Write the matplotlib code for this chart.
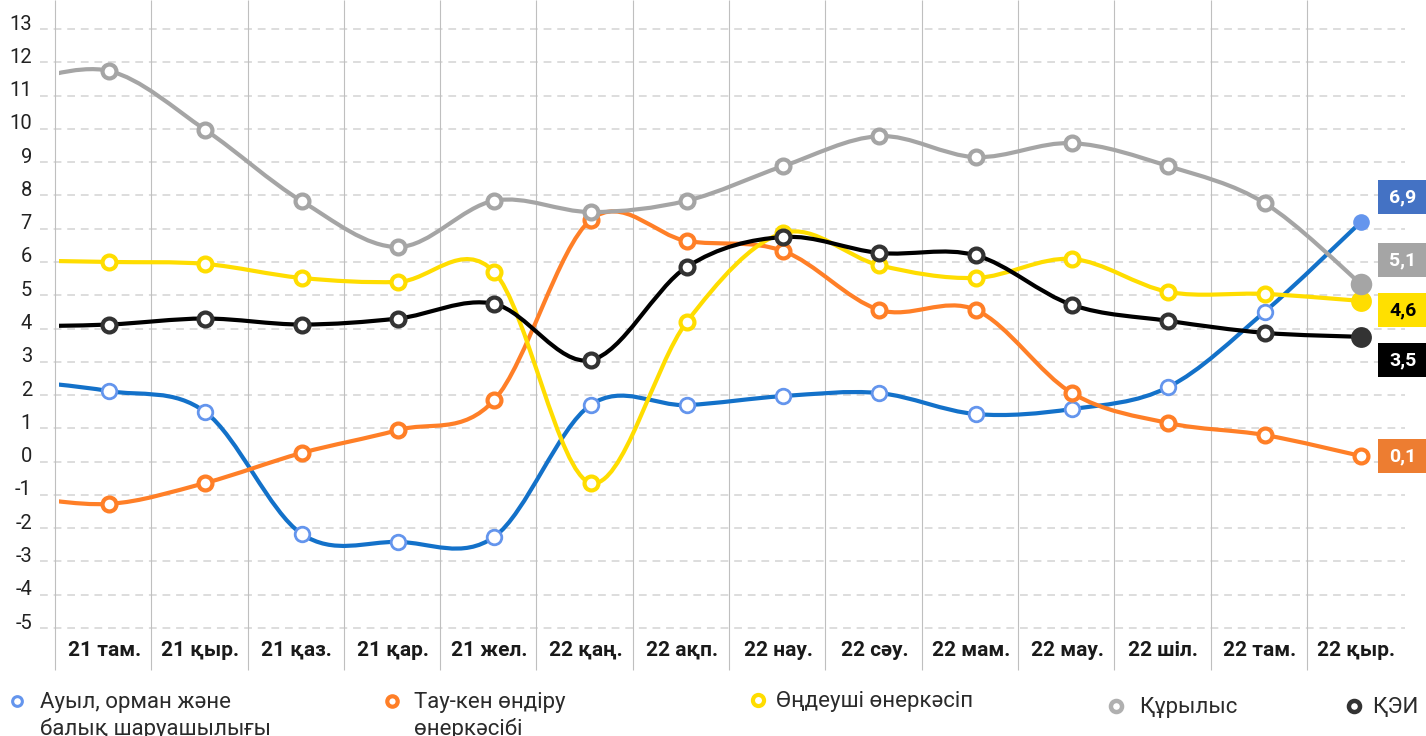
import numpy as np
import matplotlib.pyplot as plt
from matplotlib.path import Path
from matplotlib.patches import PathPatch, Rectangle

plt.rcParams['font.family'] = ['Roboto', 'DejaVu Sans']

##################################################################################################
#                    DATA
##################################################################################################

months = ['21 там.', '21 қыр.', '21 қаз.', '21 қар.', '21 жел.', '22 қаң.', '22 ақп.',
          '22 нау.', '22 сәу.', '22 мам.', '22 мау.', '22 шіл.', '22 там.', '22 қыр.']
y_ticks = list(range(-5, 14))

# the month before '21 там.' is cut by the left edge, only the start of the curve shows
agri_prev = 2.46
agri = [2.12, 1.49, -2.17, -2.41, -2.26, 1.70, 1.70, 1.97, 2.06, 1.43, 1.58, 2.24, 4.50, 7.20]

mining_prev = -1.01
mining = [-1.27, -0.64, 0.26, 0.95, 1.85, 7.26, 6.63, 6.33, 4.56, 4.56, 2.06, 1.16, 0.80, 0.17]

manuf_prev = 6.05
manuf = [6.00, 5.94, 5.52, 5.40, 5.70, -0.64, 4.20, 6.87, 5.90, 5.52, 6.09, 5.10, 5.04, 4.83]

constr_prev = 11.34
constr = [11.74, 9.97, 7.83, 6.45, 7.84, 7.50, 7.84, 8.88, 9.78, 9.15, 9.57, 8.88, 7.77, 5.34]

kei_prev = 4.06
kei = [4.12, 4.30, 4.12, 4.30, 4.74, 3.05, 5.85, 6.75, 6.27, 6.20, 4.71, 4.23, 3.87, 3.75]

last_labels = ['6,9', '0,1', '4,6', '5,1', '3,5']
legend_names = ['Ауыл, орман және\nбалық шаруашылығы', 'Тау-кен өндіру\nөнеркәсібі',
                'Өңдеуші өнеркәсіп', 'Құрылыс', 'ҚЭИ']

##################################################################################################
#                    FUNCTIONS
##################################################################################################


def smoothPath(xs, ys):
    """
    smoothPath : bezier path through the points (catmull-rom like, as excel smooth lines)
    """
    pts = np.column_stack([xs, ys]).astype(float)
    n = len(pts)
    verts = [pts[0]]
    codes = [Path.MOVETO]
    for i in range(n - 1):
        p0 = pts[max(i - 1, 0)]
        p1 = pts[i]
        p2 = pts[i + 1]
        p3 = pts[min(i + 2, n - 1)]
        verts += [p1 + (p2 - p0) / 6, p2 - (p3 - p1) / 6, p2]
        codes += [Path.CURVE4] * 3
    return Path(verts, codes)


def plotSeries(ax, prev, values, st):
    """
    plotSeries : smooth line + hollow markers, last point filled or not
    """
    x = np.arange(len(values))
    xs = np.concatenate([[-1], x])
    ys = np.concatenate([[prev], values])
    ax.add_patch(PathPatch(smoothPath(xs, ys), facecolor='none', edgecolor=st['line'],
                           lw=3, capstyle='round', zorder=st['z']))
    ax.plot(x[:-1], values[:-1], 'o', ms=st['ms'], mew=st['mew'], mec=st['edge'],
            mfc='white', zorder=st['z'] + 0.5)
    if st['fill_last']:
        ax.plot(x[-1], values[-1], 'o', ms=st['last_ms'], mew=0, mfc=st['edge'],
                zorder=st['z'] + 0.5)
    else:
        ax.plot(x[-1], values[-1], 'o', ms=st['ms'], mew=st['mew'], mec=st['edge'],
                mfc='white', zorder=st['z'] + 0.5)


##################################################################################################
#                    PLOT
##################################################################################################

W, H = 1426, 736
fig = plt.figure(figsize=(W / 100, H / 100), dpi=100)

# pixel layout of the reference: point k at x = 109 + 96.3 k, value v at y = 29 + (13 - v) * 33.28
px_x0, px_dx = 109, 96.3
px_y13, px_dy = 29, 33.28
ax_left, ax_right, ax_top, ax_bot = 59, 1405, 0, 670

ax = fig.add_axes([ax_left / W, 1 - ax_bot / H, (ax_right - ax_left) / W, (ax_bot - ax_top) / H])
ax.set_xlim((ax_left - px_x0) / px_dx, (ax_right - px_x0) / px_dx)
ax.set_ylim(13 - (ax_bot - px_y13) / px_dy, 13 + px_y13 / px_dy)
ax.axis('off')

# grid
grid_x0 = (40 - px_x0) / px_dx
ax.hlines(y_ticks, grid_x0, ax.get_xlim()[1], colors='#DDDDDD', lw=1.4,
          linestyles=(0, (4, 3)), clip_on=False, zorder=1)
ax.vlines(np.arange(len(months)) - 0.561, *ax.get_ylim(), colors='#BFBFBF', lw=0.8,
          clip_on=False, zorder=1)

for v in y_ticks:
    ax.text((32 - px_x0) / px_dx, v + 0.15, str(v), ha='right', va='center',
            fontsize=14.5, color='#222222', clip_on=False)

label_y = 13 - (650 - px_y13) / px_dy
for i, m in enumerate(months):
    ax.text(i - 0.05, label_y, m, ha='center', va='center', fontsize=15,
            fontweight='bold', color='#1A1A1A')

styles = [
    dict(line='#1371C9', edge='#6495ED', ms=10.5, mew=2.0, last_ms=12, fill_last=True, z=3),
    dict(line='#FF7F27', edge='#FF7F27', ms=10, mew=3.0, last_ms=12, fill_last=False, z=4),
    dict(line='#FFDD00', edge='#FFDD00', ms=10, mew=3.0, last_ms=15, fill_last=True, z=5),
    dict(line='#A5A5A5', edge='#A5A5A5', ms=10, mew=3.0, last_ms=15.5, fill_last=True, z=6),
    dict(line='#000000', edge='#333333', ms=10, mew=3.0, last_ms=15, fill_last=True, z=7),
]
all_prev = [agri_prev, mining_prev, manuf_prev, constr_prev, kei_prev]
all_values = [agri, mining, manuf, constr, kei]

for prev, values, st in zip(all_prev, all_values, styles):
    plotSeries(ax, prev, np.array(values), st)

# overlay in pixel coordinates for value boxes and legend
ov = fig.add_axes([0, 0, 1, 1], facecolor='none')
ov.set_xlim(0, W)
ov.set_ylim(H, 0)
ov.axis('off')

box_colors = ['#4472C4', '#ED7D31', '#FFE000', '#A5A5A5', '#000000']
box_text = ['white', 'white', 'black', 'white', 'white']
box_centers = [197, 456, 310, 260, 360]
for lab, c, tc, yc in zip(last_labels, box_colors, box_text, box_centers):
    ov.add_patch(Rectangle((1378, yc - 17), 48, 34, facecolor=c, edgecolor='none'))
    ov.text(1403, yc, lab, ha='center', va='center', fontsize=14, fontweight='bold', color=tc)

leg_marker_x = [17, 392, 758, 1116, 1354]
leg_text_x = [40, 414, 776, 1139, 1372]
leg_y = [701, 701, 700, 706, 706]
leg_edges = ['#6495ED', '#FF7F27', '#FFDD00', '#B0B0B0', '#333333']
leg_mew = [2.2, 3.0, 3.0, 3.2, 3.2]
leg_ms = [7, 7.5, 8, 8, 8]
for mx, tx, yy, ec, mw, ms, name in zip(leg_marker_x, leg_text_x, leg_y, leg_edges, leg_mew,
                                        leg_ms, legend_names):
    ov.plot(mx, yy, 'o', ms=ms, mew=mw, mec=ec, mfc='white')
    for j, line in enumerate(name.split('\n')):
        ov.text(tx, yy + 7 + 27 * j, line, ha='left', va='baseline', fontsize=16,
                color='#2B2B2B')

fig.savefig('out.png', dpi=100)
